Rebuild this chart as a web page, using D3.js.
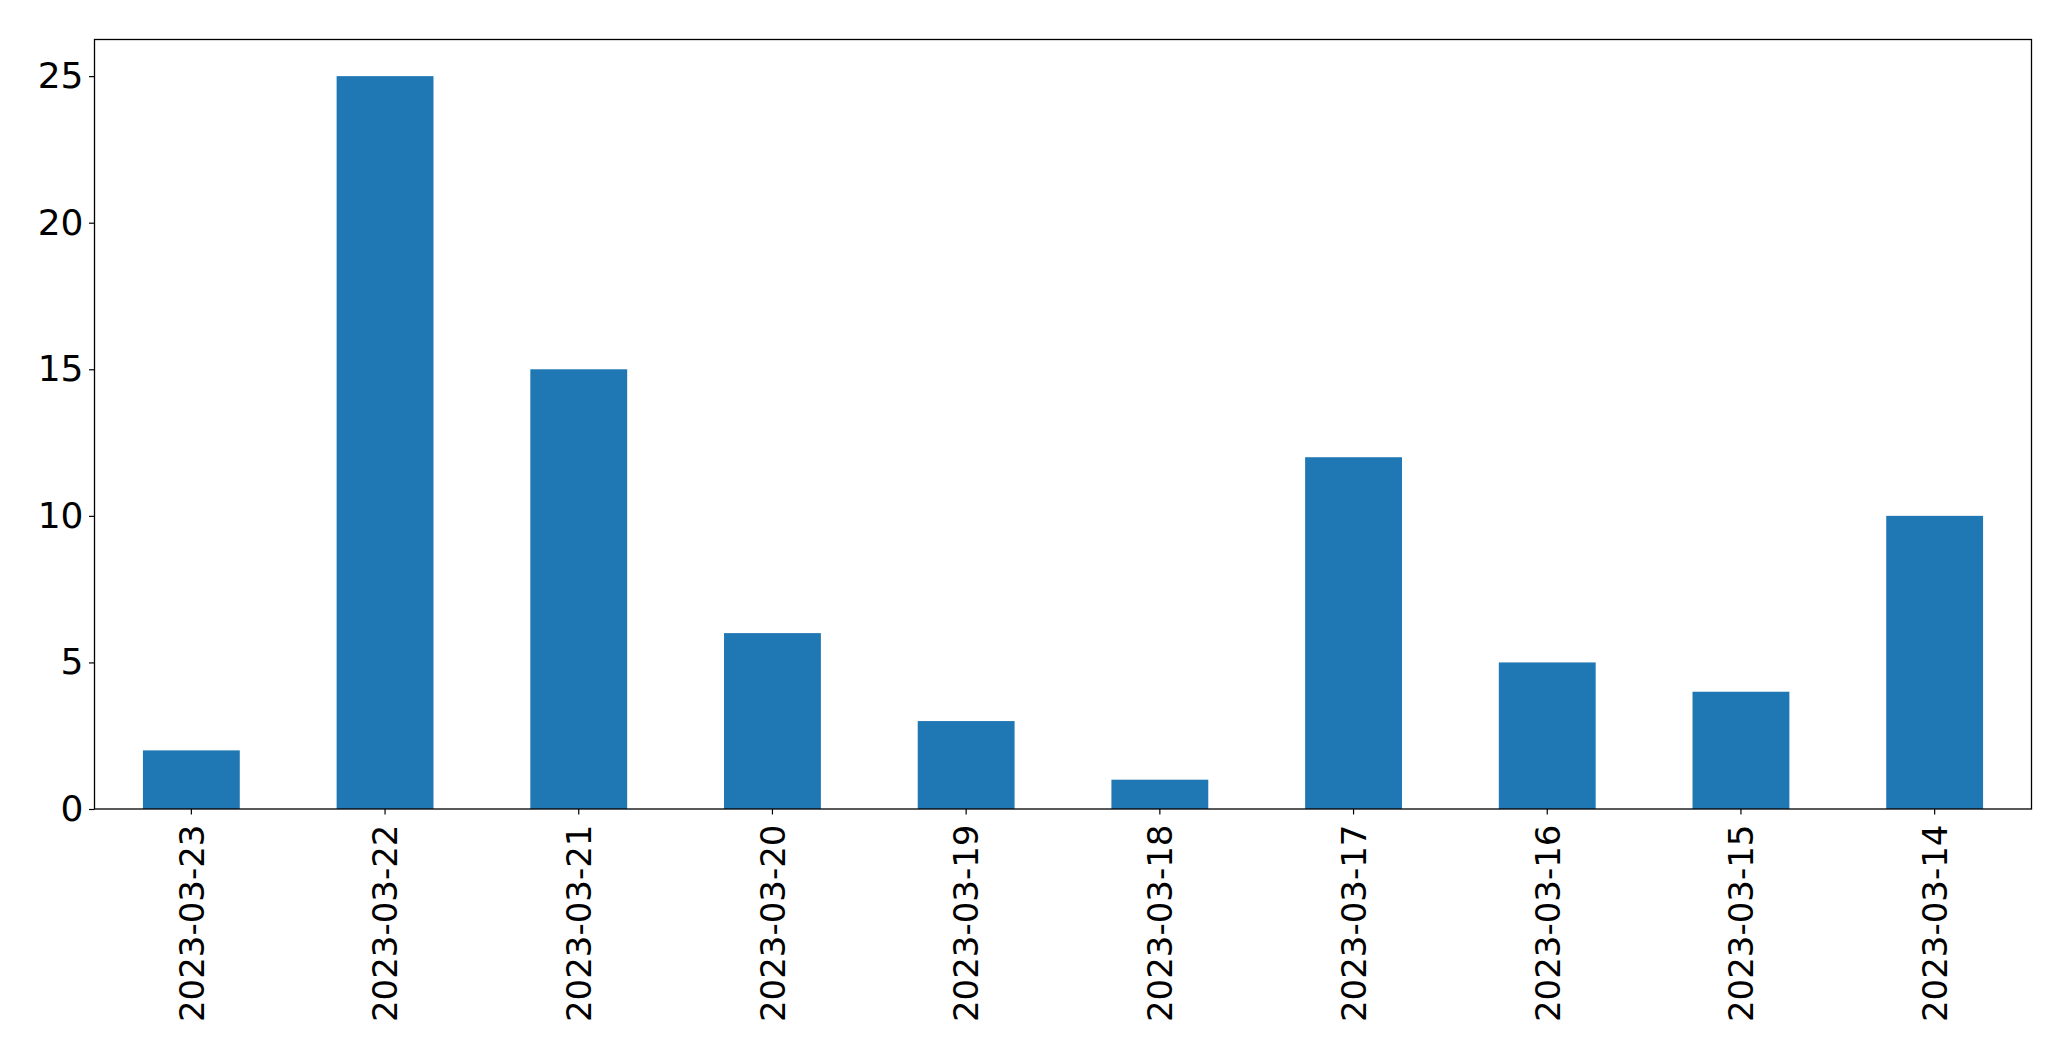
<!DOCTYPE html>
<html><head><meta charset="utf-8">
<script src="https://cdn.jsdelivr.net/npm/d3@7"></script>
<style>body{margin:0;background:#fff}svg{display:block}text{font-family:"DejaVu Sans",sans-serif}</style>
</head><body>
<script>
const categories = ["2023-03-23","2023-03-22","2023-03-21","2023-03-20","2023-03-19","2023-03-18","2023-03-17","2023-03-16","2023-03-15","2023-03-14"];
const values = [2,25,15,6,3,1,12,5,4,10];
const yTicks = [0,5,10,15,20,25];

const W = 2071, H = 1061;
const m = {left:94.5, right:2031.5, top:39.5, bottom:809};
const svg = d3.select("body").append("svg").attr("width",W).attr("height",H);

const x = d3.scaleBand().domain(categories).range([m.left,m.right]).paddingInner(0.5).paddingOuter(0.25);
const y = d3.scaleLinear().domain([0,26.25]).range([m.bottom,m.top]);

svg.append("g").selectAll("rect").data(values).join("rect")
  .attr("x",(d,i)=>x(categories[i]))
  .attr("width",x.bandwidth())
  .attr("y",d=>y(d))
  .attr("height",d=>y(0)-y(d))
  .attr("fill","#1f77b4");

svg.append("rect").attr("x",m.left).attr("y",m.top).attr("width",m.right-m.left).attr("height",m.bottom-m.top)
  .attr("fill","none").attr("stroke","#000").attr("stroke-width",1.3);

const yAxis = svg.append("g").attr("transform",`translate(${m.left},0)`)
  .call(d3.axisLeft(y).tickValues(yTicks).tickSize(5.5).tickPadding(5.5).tickFormat(d3.format("d")));
yAxis.select(".domain").remove();
yAxis.selectAll("line").attr("stroke","#000").attr("stroke-width",1.2);
yAxis.selectAll("text").attr("font-size",36).attr("fill","#000").attr("font-family","DejaVu Sans");

const xAxis = svg.append("g").attr("transform",`translate(0,${m.bottom})`)
  .call(d3.axisBottom(x).tickSize(5.5).tickPadding(8));
xAxis.select(".domain").remove();
xAxis.selectAll("line").attr("stroke","#000").attr("stroke-width",1.2);
xAxis.selectAll("text").attr("font-size",34).attr("fill","#000").attr("font-family","DejaVu Sans")
  .attr("transform","rotate(-90)").attr("text-anchor","end").attr("dy","0.36em").attr("x",-15.5).attr("y",0);
</script>
</body></html>
